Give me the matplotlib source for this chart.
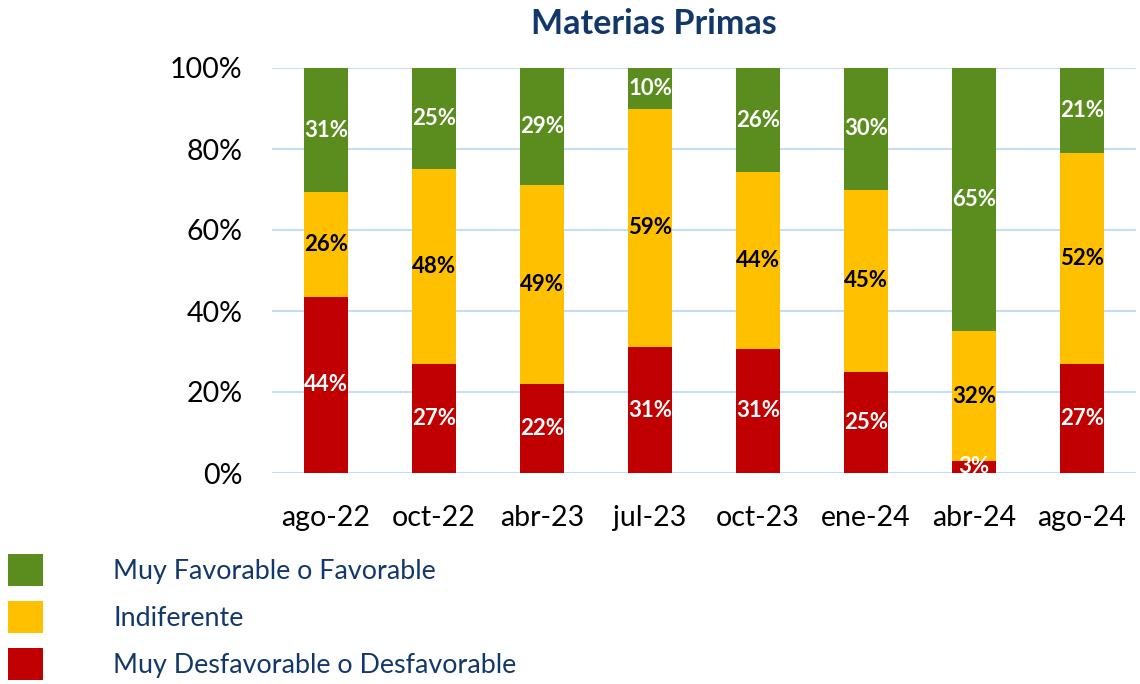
import numpy as np
import matplotlib
matplotlib.use("Agg")
import matplotlib.pyplot as plt
from matplotlib.ticker import PercentFormatter

# periods and shares (% of responses)
periods = ['ago-22', 'oct-22', 'abr-23', 'jul-23', 'oct-23', 'ene-24', 'abr-24', 'ago-24']
desfavorable = [44, 27, 22, 31, 31, 25, 3, 27]
indiferente = [26, 48, 49, 59, 44, 45, 32, 52]
favorable = [31, 25, 29, 10, 26, 30, 65, 21]

series_names = ['Muy Desfavorable o Desfavorable', 'Indiferente', 'Muy Favorable o Favorable']
colors = ['#C00000', '#FFC000', '#5B8C1E']
label_colors = ['white', 'black', 'white']
navy = '#12386B'

plt.rcParams['font.family'] = ['Lato', 'DejaVu Sans']

vals = np.array([desfavorable, indiferente, favorable], dtype=float)
shares = vals / vals.sum(axis=0)  # 100% stacked, as in the original

fig = plt.figure(figsize=(11.4, 6.84), dpi=100)
ax = fig.add_axes([272/1140, 211/684, 864/1140, 405/684])

x = np.arange(len(periods))
bottom = np.zeros(len(periods))
bars = []
for i in range(3):
    b = ax.bar(x, shares[i], 0.41, bottom=bottom, color=colors[i], label=series_names[i], zorder=2)
    bars.append(b)
    for xi, v, s, b0 in zip(x, vals[i], shares[i], bottom):
        ax.text(xi, b0 + s / 2, f'{int(v)}%', ha='center', va='center',
                color=label_colors[i], fontsize=16, fontweight='bold', zorder=3)
    bottom += shares[i]

ax.set_xlim(-0.5, len(periods) - 0.5)
ax.set_ylim(0, 1)
ax.set_yticks(np.arange(0, 1.01, 0.2))
ax.yaxis.set_major_formatter(PercentFormatter(1.0, decimals=0))
ax.set_xticks(x)
ax.set_xticklabels(periods)
ax.tick_params(axis='both', length=0, labelsize=20.5)
ax.tick_params(axis='y', pad=21)
ax.tick_params(axis='x', pad=23)
ax.grid(axis='y', color='#C5DCF5', linewidth=1.5, zorder=0)
ax.set_axisbelow(True)
for sp in ax.spines.values():
    sp.set_visible(False)

fig.text(654/1140, 1 - 24/684, 'Materias Primas', ha='center', va='center',
         fontsize=24.5, fontweight='bold', color=navy)

leg = fig.legend(handles=bars[::-1], labels=series_names[::-1], loc='upper left',
                 bbox_to_anchor=(8/1140, 1 - 554/684), frameon=False, fontsize=19.4,
                 handlelength=1.3, handleheight=1.45, handletextpad=2.6,
                 labelspacing=0.56, borderpad=0, borderaxespad=0)
for t in leg.get_texts():
    t.set_color(navy)

fig.savefig('out.png', dpi=100)
